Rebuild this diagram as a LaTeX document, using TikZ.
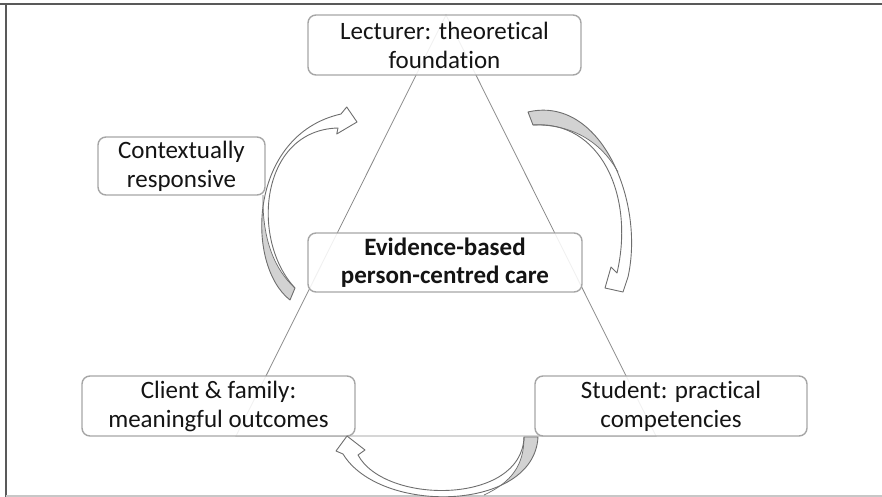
\documentclass[tikz,border=0pt]{standalone}
\usepackage{fontspec}
\setmainfont{Carlito}[Ligatures=NoCommon]
\definecolor{boxline}{HTML}{A6A6A6}
\definecolor{triline}{HTML}{8A8A8A}
\definecolor{arrline}{HTML}{6E6E6E}
\definecolor{arrgray}{HTML}{D2D2D2}
\definecolor{txt}{HTML}{141414}
\begin{document}
\begin{tikzpicture}[x=1pt,y=-1pt,
  box/.style={draw=boxline, line width=1.4pt, rounded corners=8pt, fill=white,
    fill opacity=0.88, text opacity=1, text=txt, align=center, inner sep=0pt,
    font=\fontsize{25}{29}\selectfont},
  tri/.style={draw=triline, line width=0.8pt},
  arrw/.style={draw=arrline, line width=0.9pt, fill=white, line join=round},
  frameline/.style={line width=2.2pt}]
\useasboundingbox (0,0) rectangle (882,497);
% frame
\draw[frameline, draw=black!65] (0,4) -- (882,4);
\draw[line width=2pt, draw=black!65] (6,4) -- (6,497);
\draw[line width=1.4pt, draw=black!22] (6,496) -- (882,496);
% triangle
\coordinate (apex) at (446,15);
\coordinate (bl) at (236,436);
\coordinate (br) at (656,436);
\draw[tri] (apex) -- (bl) -- (br) -- cycle;
% boxes
\node[box, minimum width=273pt, minimum height=60pt] (lect) at (444.5,45) {Lecturer: theoretical\\foundation};
\node[box, minimum width=167pt, minimum height=58pt] (ctx) at (181.5,166) {Contextually\\responsive};
\node[box, minimum width=274pt, minimum height=59pt, font=\fontsize{25}{28}\selectfont\bfseries] (ebp) at (445,262.5) {Evidence-based\\person-centred care};
\node[box, minimum width=273pt, minimum height=60pt] (client) at (218.5,406) {Client \& family:\\meaningful outcomes};
\node[box, minimum width=272pt, minimum height=60pt] (student) at (671,406) {Student: practical\\competencies};
% left curved arrow
\fill[white] (290,300) .. controls (245,265) and (248,135) .. (341,114) -- (346.7,107) -- (357,122) -- (336.7,134) -- (338,128)
  .. controls (260,130) and (250,240) .. (295,288) -- cycle;
\begin{scope}
\clip (290,300) .. controls (245,265) and (248,135) .. (341,114) -- (346.7,107) -- (357,122) -- (336.7,134) -- (338,128)
  .. controls (260,130) and (250,240) .. (295,288) -- cycle;
\fill[arrgray] (295,288) .. controls (275,270) and (262,240) .. (263,195) -- (230,190) -- (230,320) -- (300,320) -- cycle;
\end{scope}
\draw[arrline, line width=0.7pt] (295,288) .. controls (275,270) and (262,240) .. (263,195);
\draw[arrw, fill=none] (290,300) .. controls (245,265) and (248,135) .. (341,114) -- (346.7,107) -- (357,122) -- (336.7,134) -- (338,128)
  .. controls (260,130) and (250,240) .. (295,288) -- cycle;
% right curved arrow
\fill[white] (528,112) .. controls (600,95) and (645,200) .. (628,277) -- (623,292) -- (605,288) -- (611,267) -- (617,273)
  .. controls (635,195) and (600,120) .. (533,125) -- cycle;
\begin{scope}
\clip (528,112) .. controls (600,95) and (645,200) .. (628,277) -- (623,292) -- (605,288) -- (611,267) -- (617,273)
  .. controls (635,195) and (600,120) .. (533,125) -- cycle;
\fill[arrgray] (533,125) .. controls (570,124) and (600,140) .. (618,172) -- (660,172) -- (660,80) -- (510,80) -- (510,125) -- cycle;
\end{scope}
\draw[arrline, line width=0.7pt] (533,125) .. controls (570,124) and (600,140) .. (618,172);
\draw[arrw, fill=none] (528,112) .. controls (600,95) and (645,200) .. (628,277) -- (623,292) -- (605,288) -- (611,267) -- (617,273)
  .. controls (635,195) and (600,120) .. (533,125) -- cycle;
% bottom curved arrow
\fill[white] (538,437) .. controls (534,512) and (380,515) .. (343,454) -- (336,451) -- (347,436) -- (365,450) -- (358,455)
  .. controls (385,505) and (522,505) .. (524,437) -- cycle;
\begin{scope}
\clip (538,437) .. controls (534,512) and (380,515) .. (343,454) -- (336,451) -- (347,436) -- (365,450) -- (358,455)
  .. controls (385,505) and (522,505) .. (524,437) -- cycle;
\fill[arrgray] (524,437) .. controls (524,465) and (512,482) .. (484,495) -- (484,510) -- (560,510) -- (560,430) -- (524,430) -- cycle;
\end{scope}
\draw[arrline, line width=0.7pt] (524,437) .. controls (524,465) and (512,482) .. (484,495);
\draw[arrw, fill=none] (538,437) .. controls (534,512) and (380,515) .. (343,454) -- (336,451) -- (347,436) -- (365,450) -- (358,455)
  .. controls (385,505) and (522,505) .. (524,437) -- cycle;
\end{tikzpicture}
\end{document}
